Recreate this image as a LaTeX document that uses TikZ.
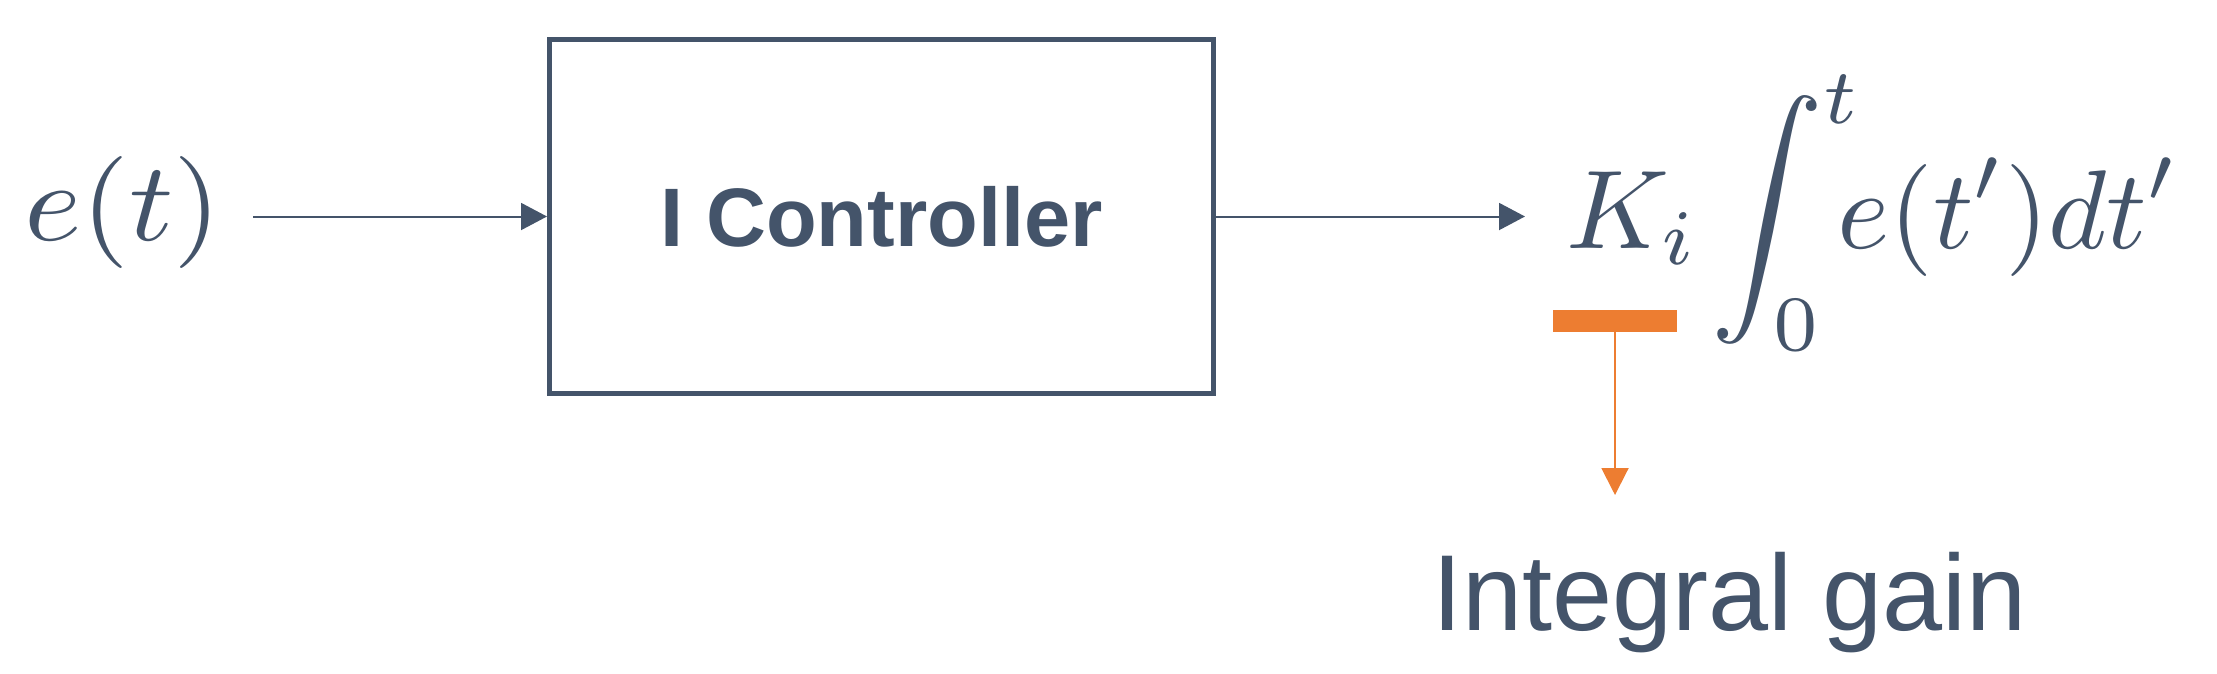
\documentclass[tikz,border=0pt]{standalone}
\usepackage{amsmath}
\usepackage{graphicx}
\usepackage[no-math]{fontspec}
\newfontfamily\helv{Liberation Sans}
\usetikzlibrary{arrows.meta}
\definecolor{slate}{HTML}{44546A}
\definecolor{accent}{HTML}{ED7D31}
\newcommand{\bigmath}[1]{\scalebox{11.2}{$#1$}}
\begin{document}
\begin{tikzpicture}[x=1pt,y=-1pt,
  flow/.style={draw=slate,line width=2pt,-{Triangle[length=26pt,width=27pt]}},
  gainflow/.style={draw=accent,line width=2pt,-{Triangle[length=27pt,width=27pt]}},
  ctrlbox/.style={draw=slate,line width=5pt,minimum width=664pt,minimum height=354pt,inner sep=0pt,text=slate,font=\fontsize{83}{90}\selectfont\helv\bfseries},
  mathlbl/.style={inner sep=0pt,text=slate},
  gainlbl/.style={inner sep=0pt,text=slate,font=\fontsize{108}{120}\selectfont\helv},
  bar/.style={fill=accent,minimum width=124pt,minimum height=22pt,inner sep=0pt}]
\useasboundingbox (0,0) rectangle (2217,673);
\node[ctrlbox] (ctrl) at (881.5,216.5) {I Controller};
\node[mathlbl,anchor=base west] (et) at (24,240) {\scalebox{12.3}[11.2]{$e(t)$}};
\coordinate (in) at (253,216.5);
\draw[flow] (in) -- (ctrl.west);
\node[mathlbl,anchor=base west] (out) at (1566,248) {\bigmath{K_i\mkern-1mu\displaystyle\int_0^t\mkern-7mu e(t')dt'}};
\coordinate (outtip) at (1525,216.5);
\draw[flow] (ctrl.east) -- (outtip);
\node[bar] (mark) at (1615,321) {};
\coordinate (gaintip) at (1615,495);
\draw[gainflow] (mark.south) -- (gaintip);
\node[gainlbl,anchor=base west] (gain) at (1432,630) {Integral gain};
\end{tikzpicture}
\end{document}
